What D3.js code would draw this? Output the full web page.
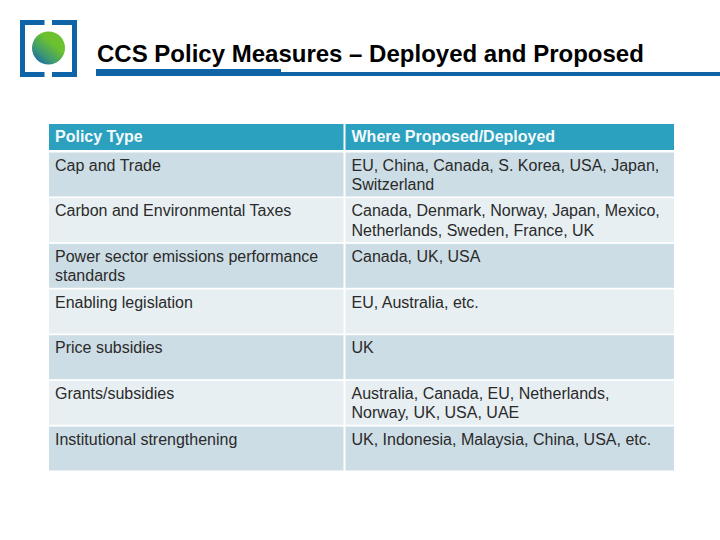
<!DOCTYPE html>
<html>
<head>
<meta charset="utf-8">
<script src="https://cdn.jsdelivr.net/npm/d3@7"></script>
<style>
html, body { margin: 0; padding: 0; background: #fff; }
svg { display: block; }
text { font-family: "Liberation Sans", Arial, sans-serif; }
</style>
</head>
<body>
<svg id="chart" width="720" height="540"></svg>
<script>
const titleText = "CCS Policy Measures – Deployed and Proposed";
const headers = ["Policy Type", "Where Proposed/Deployed"];
const policyTypes = [
	["Cap and Trade"],
	["Carbon and Environmental Taxes"],
	["Power sector emissions performance", "standards"],
	["Enabling legislation"],
	["Price subsidies"],
	["Grants/subsidies"],
	["Institutional strengthening"]
];
const whereDeployed = [
	["EU, China, Canada, S. Korea, USA, Japan,", "Switzerland"],
	["Canada, Denmark, Norway, Japan, Mexico,", "Netherlands, Sweden, France, UK"],
	["Canada, UK, USA"],
	["EU, Australia, etc."],
	["UK"],
	["Australia, Canada, EU, Netherlands,", "Norway, UK, USA, UAE"],
	["UK, Indonesia, Malaysia, China, USA, etc."]
];

let svg = d3.select("#chart");

// logo gradient
let defs = svg.append("defs");
let grad = defs.append("linearGradient")
	.attr("id", "ball")
	.attr("x1", 0.12).attr("y1", 0.95)
	.attr("x2", 0.62).attr("y2", 0.35);
grad.append("stop").attr("offset", "0").attr("stop-color", "#1668a8");
grad.append("stop").attr("offset", "0.45").attr("stop-color", "#3f9a70");
grad.append("stop").attr("offset", "1").attr("stop-color", "#6cc12f");

// logo brackets
let blue = "#0f64a8";
svg.append("path")
	.attr("d", "M44.5 22.5H22.5V74.5H44.5M52 22.5H74.5V74.5H52")
	.attr("fill", "none")
	.attr("stroke", blue)
	.attr("stroke-width", 5);
svg.append("circle")
	.attr("cx", 48.5).attr("cy", 48)
	.attr("r", 16.5)
	.attr("fill", "url(#ball)");

// title + rule under it
svg.append("text")
	.attr("x", 97).attr("y", 61.5)
	.attr("font-size", 24)
	.attr("font-weight", "bold")
	.attr("fill", "#000")
	.text(titleText);
svg.append("rect")
	.attr("x", 96).attr("y", 72)
	.attr("width", 624).attr("height", 4)
	.attr("fill", blue);
svg.append("rect")
	.attr("x", 96).attr("y", 69)
	.attr("width", 185).attr("height", 7)
	.attr("fill", blue);

// table
let cols = [49, 344.5, 674];
let y = d3.scaleBand()
	.domain(d3.range(policyTypes.length))
	.range([152.5, 470.5])
	.paddingInner(0.038);

let table = svg.append("g");

// header
table.selectAll("rect.head")
	.data(headers)
	.join("rect")
	.attr("class", "head")
	.attr("x", (d, i) => i ? cols[1] + 1 : cols[0])
	.attr("y", 124)
	.attr("width", (d, i) => i ? cols[2] - cols[1] - 1 : cols[1] - cols[0] - 1)
	.attr("height", 26)
	.attr("fill", "#2ba0bf");
table.selectAll("text.head")
	.data(headers)
	.join("text")
	.attr("class", "head")
	.attr("x", (d, i) => (i ? cols[1] + 7 : cols[0] + 6))
	.attr("y", 142)
	.attr("font-size", 16)
	.attr("font-weight", "bold")
	.attr("fill", "#f4fafc")
	.text(d => d);

// body rows, banded
let rows = table.selectAll("g.row")
	.data(d3.range(policyTypes.length))
	.join("g")
	.attr("class", "row")
	.attr("transform", d => `translate(0,${y(d)})`);
rows.append("rect")
	.attr("x", cols[0])
	.attr("width", cols[1] - cols[0] - 1)
	.attr("height", y.bandwidth())
	.attr("fill", d => d % 2 ? "#e7eff2" : "#cddde5");
rows.append("rect")
	.attr("x", cols[1] + 1)
	.attr("width", cols[2] - cols[1] - 1)
	.attr("height", y.bandwidth())
	.attr("fill", d => d % 2 ? "#e7eff2" : "#cddde5");

function cellText(sel, source, left) {
	sel.append("text")
		.attr("font-size", 16)
		.attr("fill", "#2a2a2a")
		.selectAll("tspan")
		.data(d => source[d])
		.join("tspan")
		.attr("x", left)
		.attr("y", (d, i) => 18.2 + i * 19.3)
		.text(d => d);
}
cellText(rows, policyTypes, cols[0] + 6);
cellText(rows, whereDeployed, cols[1] + 7);
</script>
</body>
</html>
